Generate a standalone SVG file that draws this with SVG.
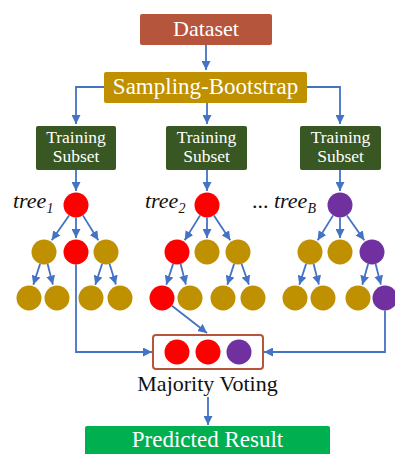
<svg xmlns="http://www.w3.org/2000/svg" width="395" height="454" viewBox="0 0 395 454">
<style>
.lbl{font-family:"Liberation Serif","Times New Roman",serif;fill:#fff;text-anchor:middle}
.tl{font-family:"Liberation Serif","Times New Roman",serif;font-style:italic;fill:#111}
.e{stroke:#4472c4;stroke-width:1.8;fill:none}
.g{fill:#bf9000}.r{fill:#ff0000}.p{fill:#7030a0}
</style>
<defs>
<marker id="ah" viewBox="0 0 10 10" refX="10" refY="5" markerWidth="9" markerHeight="9" markerUnits="userSpaceOnUse" orient="auto">
<path d="M0,0 L10,5 L0,10 z" fill="#4472c4"/>
</marker>
</defs>
<g id="connectors" class="e" marker-end="url(#ah)">
<path d="M206,45 V70"/>
<path d="M104,87 H76 V124"/>
<path d="M207,103 V124"/>
<path d="M307,87 H340 V124"/>
<path d="M76,170 V191"/>
<path d="M207,170 V191"/>
<path d="M340,170 V191"/>
<path d="M69.1,215.4 L51.7,240.3"/>
<path d="M76,217.5 L76,238"/>
<path d="M82.9,215.4 L98.3,240.3"/>
<path d="M40.1,263.9 L33.3,284.7"/>
<path d="M47.6,264 L52.9,284.6"/>
<path d="M102.1,263.9 L95.3,284.7"/>
<path d="M109.6,264 L115.9,284.6"/>
<path d="M200.1,215.4 L184.7,240.3"/>
<path d="M207,217.5 L207,238"/>
<path d="M213.9,215.4 L230.3,240.3"/>
<path d="M173.1,263.9 L166.3,284.7"/>
<path d="M180.6,264 L185.9,284.6"/>
<path d="M234.1,263.9 L227.3,284.7"/>
<path d="M241.6,264 L248.9,284.6"/>
<path d="M333.1,215.4 L317.7,240.3"/>
<path d="M340,217.5 L340,238"/>
<path d="M346.9,215.4 L364.3,240.3"/>
<path d="M306.1,263.9 L299.3,284.7"/>
<path d="M313.6,264 L318.9,284.6"/>
<path d="M368.1,263.9 L362.3,284.7"/>
<path d="M375.6,264 L380.9,284.6"/>
<path d="M76,264.5 V352 H152"/>
<path d="M385,310.5 V352 H264"/>
<path d="M171.9,305.7 L207,333"/>
<path d="M208,397 V425"/>
</g>
<g id="dataset">
<rect x="140" y="14" width="132" height="31" rx="2" fill="#b5553c"/>
<text class="lbl" x="206" y="36" font-size="22">Dataset</text>
</g>
<g id="sampling">
<rect x="104" y="72" width="203" height="31" rx="2" fill="#bf9000"/>
<text class="lbl" x="205.5" y="94" font-size="23">Sampling-Bootstrap</text>
</g>
<g id="subset1">
<rect x="36" y="126" width="80" height="44" rx="2" fill="#385723"/>
<text class="lbl" x="76" y="143" font-size="17.5">Training</text>
<text class="lbl" x="76" y="162" font-size="17.5">Subset</text>
</g>
<g id="subset2">
<rect x="166" y="126" width="81" height="44" rx="2" fill="#385723"/>
<text class="lbl" x="206.5" y="143" font-size="17.5">Training</text>
<text class="lbl" x="206.5" y="162" font-size="17.5">Subset</text>
</g>
<g id="subset3">
<rect x="300" y="126" width="81" height="44" rx="2" fill="#385723"/>
<text class="lbl" x="340.5" y="143" font-size="17.5">Training</text>
<text class="lbl" x="340.5" y="162" font-size="17.5">Subset</text>
</g>
<g id="tree1">
<text class="tl" x="13" y="208" font-size="22">tree<tspan font-size="14" dy="5">1</tspan></text>
<circle class="r" cx="76" cy="205" r="12.5"/>
<circle class="g" cx="44" cy="252" r="12.5"/>
<circle class="r" cx="76" cy="252" r="12.5"/>
<circle class="g" cx="106" cy="252" r="12.5"/>
<circle class="g" cx="29" cy="298" r="12.5"/>
<circle class="g" cx="57" cy="298" r="12.5"/>
<circle class="g" cx="91" cy="298" r="12.5"/>
<circle class="g" cx="120" cy="298" r="12.5"/>
</g>
<g id="tree2">
<text class="tl" x="145" y="208" font-size="22">tree<tspan font-size="14" dy="5">2</tspan></text>
<circle class="r" cx="207" cy="205" r="12.5"/>
<circle class="r" cx="177" cy="252" r="12.5"/>
<circle class="g" cx="207" cy="252" r="12.5"/>
<circle class="g" cx="238" cy="252" r="12.5"/>
<circle class="r" cx="162" cy="298" r="12.5"/>
<circle class="g" cx="190" cy="298" r="12.5"/>
<circle class="g" cx="223" cy="298" r="12.5"/>
<circle class="g" cx="253" cy="298" r="12.5"/>
</g>
<g id="treeB">
<text class="tl" x="252" y="208" font-size="22"><tspan font-style="normal">...</tspan> tree<tspan font-size="14" dy="5">B</tspan></text>
<circle class="p" cx="340" cy="205" r="12.5"/>
<circle class="g" cx="310" cy="252" r="12.5"/>
<circle class="g" cx="340" cy="252" r="12.5"/>
<circle class="p" cx="372" cy="252" r="12.5"/>
<circle class="g" cx="295" cy="298" r="12.5"/>
<circle class="g" cx="323" cy="298" r="12.5"/>
<circle class="g" cx="358" cy="298" r="12.5"/>
<circle class="p" cx="385" cy="298" r="12.5"/>
</g>
<g id="voting">
<rect x="153" y="335" width="110" height="34" rx="3" fill="#fff" stroke="#b5553c" stroke-width="2"/>
<circle class="r" cx="177" cy="352" r="12.5"/>
<circle class="r" cx="208" cy="352" r="12.5"/>
<circle class="p" cx="239" cy="352" r="12.5"/>
<text x="207.5" y="391" font-size="22" text-anchor="middle" font-family="Liberation Serif, Times New Roman, serif" fill="#111">Majority Voting</text>
</g>
<g id="result">
<rect x="85" y="426" width="245" height="40" rx="2" fill="#00b050"/>
<text class="lbl" x="207.5" y="447" font-size="23">Predicted Result</text>
</g>
</svg>
